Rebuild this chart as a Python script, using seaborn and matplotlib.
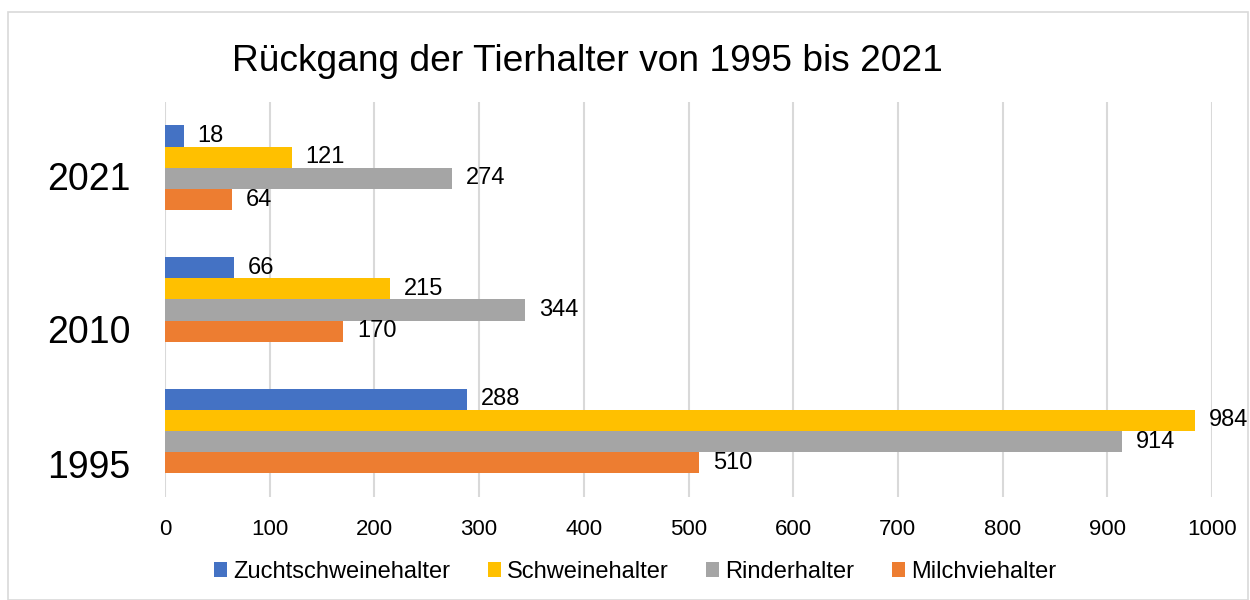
import pandas as pd
import matplotlib.pyplot as plt
import matplotlib.transforms as mtransforms
from matplotlib.patches import Rectangle
import seaborn as sns

# Data
jahre = ['2021', '2010', '1995']
zuchtschweinehalter = [18, 66, 288]
schweinehalter = [121, 215, 984]
rinderhalter = [274, 344, 914]
milchviehalter = [64, 170, 510]

serien = ['Zuchtschweinehalter', 'Schweinehalter', 'Rinderhalter', 'Milchviehalter']
farben = ['#4472C4', '#FFC000', '#A5A5A5', '#ED7D31']

rows = []
for name, werte in zip(serien, [zuchtschweinehalter, schweinehalter, rinderhalter, milchviehalter]):
    for jahr, w in zip(jahre, werte):
        rows.append({'Jahr': jahr, 'Gruppe': name, 'Anzahl': w})
df = pd.DataFrame(rows)

sns.set_style('white')
plt.rcParams['font.family'] = ['Liberation Sans', 'DejaVu Sans']
plt.rcParams['text.color'] = 'black'
plt.rcParams['xtick.color'] = 'black'
plt.rcParams['ytick.color'] = 'black'

fig = plt.figure(figsize=(12.5, 6), dpi=100)
ax = fig.add_axes([0.132, 0.172, 0.8376, 0.658])

sns.barplot(data=df, x='Anzahl', y='Jahr', hue='Gruppe', order=jahre, hue_order=serien,
            palette=farben, orient='h', width=0.645, saturation=1, linewidth=0,
            ax=ax, zorder=2)

for c in ax.containers:
    ax.bar_label(c, padding=10, fontsize=17, color='black')

ax.set_xlim(0, 1000)
ax.set_xticks(range(0, 1001, 100))
ax.grid(axis='x', color='#D9D9D9', linewidth=1.5, zorder=0)
ax.grid(axis='y', visible=False)
ax.set_axisbelow(True)
for s in ax.spines.values():
    s.set_visible(False)
ax.tick_params(axis='x', length=0, pad=16, labelsize=16, labelcolor='black')
ax.tick_params(axis='y', length=0, pad=25, labelsize=27, labelcolor='black')
ax.set_xlabel('')
ax.set_ylabel('')

# Excel places the category labels slightly below the group centres
for lbl, dy in zip(ax.get_yticklabels(), [8, 30, 33]):
    lbl.set_transform(lbl.get_transform() + mtransforms.Affine2D().translate(0, -dy))

fig.text(0.47, 0.897, 'Rückgang der Tierhalter von 1995 bis 2021', fontsize=26.7,
         ha='center', va='center', color='black')

handles, labels = ax.get_legend_handles_labels()
leg = ax.legend(handles, labels, loc='center', bbox_to_anchor=(0.508, 0.047), bbox_transform=fig.transFigure,
                ncol=4, frameon=False, fontsize=17, handlelength=0.55, handleheight=0.55,
                handletextpad=0.25, columnspacing=1.6)
for t in leg.get_texts():
    t.set_color('black')

fig.patches.append(Rectangle((0.006, 0.0), 0.992, 0.98, transform=fig.transFigure,
                             fill=False, edgecolor='#D9D9D9', linewidth=1.2))

fig.savefig('out.png', dpi=100)
